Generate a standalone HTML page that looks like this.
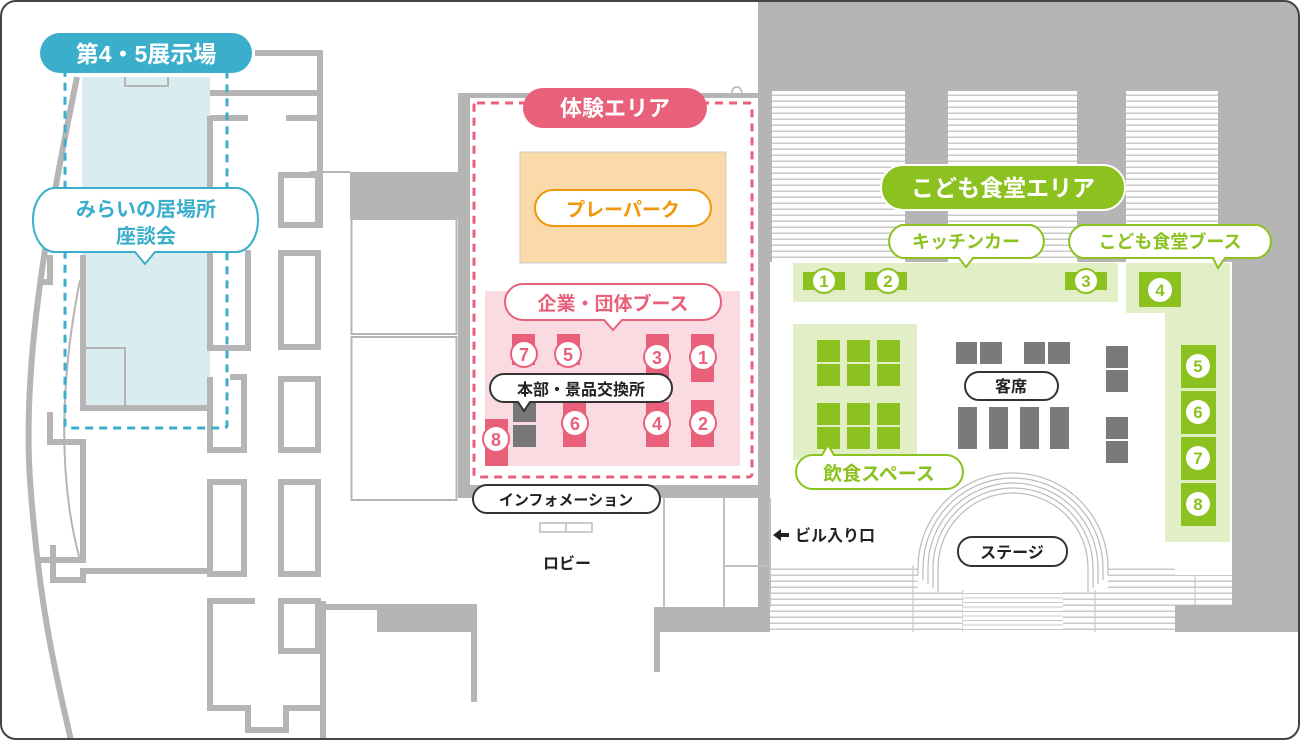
<!DOCTYPE html>
<html><head><meta charset="utf-8"><style>
html,body{margin:0;padding:0;background:#fff;}
svg{display:block;}
text{font-family:"Liberation Sans","Noto Sans CJK JP",sans-serif;font-weight:bold;}
</style></head><body>
<svg width="1300" height="740" viewBox="0 0 1300 740" xmlns="http://www.w3.org/2000/svg">
<defs>
<pattern id="st" width="10" height="6" patternUnits="userSpaceOnUse"><rect width="10" height="6" fill="#fff"/><rect y="4.5" width="10" height="1.5" fill="#c8c8c8"/></pattern>
<pattern id="st2" width="10" height="4.5" patternUnits="userSpaceOnUse"><rect width="10" height="4.5" fill="#fff"/><rect y="3.5" width="10" height="1" fill="#c8c8c8"/></pattern>
<clipPath id="fr"><rect x="1" y="1" width="1298" height="738" rx="15"/></clipPath>
</defs>
<g clip-path="url(#fr)">
<rect width="1300" height="740" fill="#fff"/>
<!-- right gray structure -->
<rect x="758" y="0" width="542" height="632" fill="#b5b5b5"/>
<rect x="770" y="262" width="462" height="345" fill="#fff"/>
<rect x="772" y="91" width="133" height="171" fill="url(#st)"/>
<rect x="948" y="91" width="129" height="171" fill="url(#st)"/>
<rect x="1126" y="91" width="92" height="171" fill="url(#st)"/>
<rect x="770" y="565" width="405" height="67" fill="url(#st)"/>
<rect x="1175" y="575" width="57" height="30" fill="url(#st)"/>
<rect x="1175" y="605" width="65" height="27" fill="#b5b5b5"/>
<g stroke="#c8c8c8" stroke-width="1.2" fill="none">
<line x1="913" y1="565" x2="913" y2="632"/><line x1="963" y1="590" x2="963" y2="632"/><line x1="1095" y1="590" x2="1095" y2="632"/>
<line x1="1195" y1="575" x2="1195" y2="605"/>
</g>
<!-- stage arch -->
<rect x="918" y="565" width="190" height="25" fill="#fff"/>
<g fill="none" stroke="#bbb" stroke-width="1.2">
<path d="M918 575 V568 A95 95 0 0 1 1108 568 V575"/>
<path d="M923 580 V568 A90 90 0 0 1 1103 568 V580"/>
<path d="M928 584 V568 A85 85 0 0 1 1098 568 V584"/>
<path d="M933 588 V568 A80 80 0 0 1 1093 568 V588"/>
<path d="M938 592 V568 A75 75 0 0 1 1088 568 V592"/>
</g>
<rect x="939" y="568" width="148" height="22" fill="#fff"/>
<rect x="963" y="592" width="100" height="40" fill="url(#st2)"/>

<!-- experience area walls -->
<rect x="458" y="93" width="300" height="405" fill="#b5b5b5"/>
<rect x="470" y="98" width="288" height="387" fill="#fff"/>
<rect x="350" y="172" width="108" height="47" fill="#b5b5b5"/>
<rect x="351.5" y="219" width="105" height="115" fill="none" stroke="#b5b5b5" stroke-width="2"/>
<rect x="351.5" y="337" width="105" height="163" fill="none" stroke="#b5b5b5" stroke-width="2"/>
<line x1="310" y1="172" x2="350" y2="172" stroke="#b5b5b5" stroke-width="2"/>
<path d="M732 93 q0-6 5-6 q4 0 5 6" fill="#fff" stroke="#b5b5b5" stroke-width="1.5"/>

<!-- lobby lines -->
<g stroke="#c0c0c0" stroke-width="2" fill="none">
<line x1="664" y1="498" x2="664" y2="607"/><line x1="724" y1="498" x2="724" y2="607"/>
<line x1="724" y1="566" x2="770" y2="566"/><line x1="770" y1="498" x2="770" y2="607"/>
</g>
<rect x="654" y="607" width="116" height="25" fill="#b5b5b5"/>
<rect x="654" y="632" width="6" height="40" fill="#b5b5b5"/>
<rect x="377" y="604" width="100" height="28" fill="#b5b5b5"/>
<rect x="471" y="632" width="6" height="70" fill="#b5b5b5"/>
<rect x="326" y="604" width="51" height="6" fill="#b5b5b5"/>
<rect x="540" y="523" width="52" height="9" fill="none" stroke="#bbb" stroke-width="1.5"/><line x1="566" y1="523" x2="566" y2="532" stroke="#bbb" stroke-width="1.5"/>

<!-- left area -->
<rect x="82" y="77" width="128" height="333" fill="#d9ecef"/>
<g fill="none" stroke="#b5b5b5" stroke-width="6">
<path d="M77 77 C48 220 22 360 30 480 C40 620 60 690 72 745"/>
<path d="M255 53 H320 V228"/>
<path d="M210 93 H320"/>
<path d="M210 118 H248 M286 118 H320"/>
<path d="M210 116 V228"/>
<path d="M210 250 V348 H248 V250"/>
<rect x="281" y="175" width="37" height="50"/>
<rect x="281" y="253" width="37" height="94"/>
<path d="M210 377 V450 H244 V377 H230"/>
<rect x="281" y="379" width="37" height="71"/>
<rect x="210" y="482" width="34" height="92"/>
<rect x="281" y="482" width="37" height="92"/>
<path d="M83 571 H210"/>
<path d="M255 601 H210 V708 H248 V730 H286 V708 H323"/>
<rect x="281" y="601" width="37" height="50"/>
<path d="M323 601 V745"/>
<path d="M50 412 V442 H83 V560 H38"/>
<path d="M53 545 V580 H83 V568"/>
<path d="M83 255 V410"/>
<path d="M50 255 V282 H38"/>
</g>
<path d="M80 280 C60 380 58 480 80 560" fill="none" stroke="#b5b5b5" stroke-width="2"/>
<path d="M125 77 V86 H168 V77" fill="none" stroke="#b5b5b5" stroke-width="2"/>
<path d="M85 348 H125 V410 M125 348 V410" fill="none" stroke="#b5b5b5" stroke-width="2"/>
<rect x="80" y="405" width="130" height="6" fill="#b5b5b5"/>
<rect x="65" y="60" width="162" height="368" fill="none" stroke="#3aaecb" stroke-width="3" stroke-dasharray="8 6" rx="3"/>
<rect x="40" y="33" width="212" height="40" rx="20" fill="#3aaecb"/>
<text x="146" y="62" font-size="23" fill="#fff" text-anchor="middle">第4・5展示場</text>
<path d="M55 188 H236 A22 32 0 0 1 236 252 H155 L145 264 L135 252 H55 A22 32 0 0 1 55 188 Z" fill="#fff" stroke="#3aaecb" stroke-width="2"/>
<text x="146" y="216" font-size="20" fill="#3aaecb" text-anchor="middle">みらいの居場所</text>
<text x="146" y="243" font-size="20" fill="#3aaecb" text-anchor="middle">座談会</text>

<!-- experience area contents -->
<rect x="520" y="152" width="206" height="111" fill="#fbdaa9" stroke="#ccc" stroke-width="1"/>
<rect x="535" y="190" width="176" height="36" rx="18" fill="#fff" stroke="#f0960a" stroke-width="2"/>
<text x="623" y="216" font-size="19" fill="#f0960a" text-anchor="middle">プレーパーク</text>
<rect x="485" y="291" width="255" height="175" fill="#fadbe1"/>
<g fill="#e8607a">
<rect x="512" y="334" width="23" height="31"/><rect x="557" y="334" width="23" height="31"/>
<rect x="646" y="334" width="23" height="47"/><rect x="691" y="334" width="23" height="48"/>
<rect x="563" y="402" width="23" height="45"/><rect x="646" y="402" width="23" height="45"/>
<rect x="691" y="400" width="23" height="47"/><rect x="485" y="419" width="23" height="47"/>
</g>
<rect x="513" y="400" width="23" height="22" fill="#777"/><rect x="513" y="425" width="23" height="22" fill="#777"/>
<g fill="#fff" stroke="#e8607a" stroke-width="2">
<circle cx="524" cy="354" r="13"/><circle cx="568" cy="354" r="13"/><circle cx="657" cy="357" r="13"/><circle cx="703" cy="357" r="13"/>
<circle cx="575" cy="423" r="13"/><circle cx="657" cy="423" r="13"/><circle cx="703" cy="423" r="13"/><circle cx="496" cy="439" r="13"/>
</g>
<g font-size="18" fill="#e8607a" text-anchor="middle">
<text x="524" y="361">7</text><text x="568" y="361">5</text><text x="657" y="364">3</text><text x="703" y="364">1</text>
<text x="575" y="430">6</text><text x="657" y="430">4</text><text x="703" y="430">2</text><text x="496" y="446">8</text>
</g>
<path d="M523 284 H703 A18 18 0 0 1 703 320 H622 L613 330 L604 320 H523 A18 18 0 0 1 523 284 Z" fill="#fff" stroke="#e8607a" stroke-width="2"/>
<text x="613" y="310" font-size="19" fill="#e8607a" text-anchor="middle">企業・団体ブース</text>
<path d="M504 374 H658 A14 14 0 0 1 658 402 H530 L524 411 L518 402 H504 A14 14 0 0 1 504 374 Z" fill="#fff" stroke="#333" stroke-width="2"/>
<text x="581" y="395" font-size="16" fill="#222" text-anchor="middle" font-weight="normal">本部・景品交換所</text>
<rect x="474" y="103" width="278" height="374" rx="3" fill="none" stroke="#e8607a" stroke-width="3" stroke-dasharray="8 6"/>
<rect x="523" y="88" width="184" height="40" rx="20" fill="#e8607a"/>
<text x="615" y="116" font-size="22" fill="#fff" text-anchor="middle">体験エリア</text>
<rect x="473" y="485" width="187" height="28" rx="14" fill="#fff" stroke="#333" stroke-width="2"/>
<text x="566" y="505" font-size="15" fill="#222" text-anchor="middle" font-weight="normal">インフォメーション</text>
<text x="567" y="569" font-size="16" fill="#222" text-anchor="middle" font-weight="normal">ロビー</text>

<!-- kodomo area -->
<rect x="793" y="263" width="325" height="39" fill="#e1eec6"/>
<path d="M1126 263 H1230 V542 H1165 V313 H1126 Z" fill="#e1eec6"/>
<rect x="793" y="324" width="124" height="136" fill="#e1eec6"/>
<g fill="#8cc220">
<rect x="803" y="272" width="42" height="18"/><rect x="865" y="272" width="42" height="18"/><rect x="1065" y="272" width="42" height="18"/>
<rect x="1139" y="272" width="42" height="35"/>
<rect x="1181" y="345" width="35" height="43"/><rect x="1181" y="391" width="35" height="43"/><rect x="1181" y="437" width="35" height="43"/><rect x="1181" y="483" width="35" height="43"/>
<rect x="817" y="340" width="23" height="22"/><rect x="847" y="340" width="23" height="22"/><rect x="877" y="340" width="23" height="22"/>
<rect x="817" y="364" width="23" height="22"/><rect x="847" y="364" width="23" height="22"/><rect x="877" y="364" width="23" height="22"/>
<rect x="817" y="403" width="23" height="22"/><rect x="847" y="403" width="23" height="22"/><rect x="877" y="403" width="23" height="22"/>
<rect x="817" y="427" width="23" height="22"/><rect x="847" y="427" width="23" height="22"/><rect x="877" y="427" width="23" height="22"/>
</g>
<g fill="#fff" stroke="#8cc220" stroke-width="2"><circle cx="824" cy="281" r="12"/><circle cx="888" cy="281" r="12"/><circle cx="1086" cy="281" r="12"/></g>
<g fill="#fff"><circle cx="1160" cy="290" r="12"/><circle cx="1198" cy="366" r="12"/><circle cx="1198" cy="412" r="12"/><circle cx="1198" cy="458" r="12"/><circle cx="1198" cy="504" r="12"/></g>
<g font-size="17" fill="#8cc220" text-anchor="middle">
<text x="824" y="287">1</text><text x="888" y="287">2</text><text x="1086" y="287">3</text><text x="1160" y="296">4</text>
<text x="1198" y="372">5</text><text x="1198" y="418">6</text><text x="1198" y="464">7</text><text x="1198" y="510">8</text>
</g>
<g fill="#7a7a7a">
<rect x="956" y="342" width="21" height="22"/><rect x="980" y="342" width="22" height="22"/>
<rect x="1024" y="342" width="21" height="22"/><rect x="1048" y="342" width="22" height="22"/>
<rect x="958" y="407" width="19" height="42"/><rect x="989" y="407" width="19" height="42"/><rect x="1020" y="407" width="19" height="42"/><rect x="1050" y="407" width="19" height="42"/>
<rect x="1106" y="346" width="22" height="22"/><rect x="1106" y="370" width="22" height="22"/>
<rect x="1106" y="417" width="22" height="22"/><rect x="1106" y="441" width="22" height="22"/>
</g>
<rect x="965" y="372" width="93" height="28" rx="14" fill="#fff" stroke="#333" stroke-width="2"/>
<text x="1011" y="392" font-size="16" fill="#222" text-anchor="middle" font-weight="normal">客席</text>
<path d="M813 455 H822 L828 445 L834 455 H946 A17 17 0 0 1 946 489 H813 A17 17 0 0 1 813 455 Z" fill="#fff" stroke="#8cc220" stroke-width="2"/>
<text x="879" y="480" font-size="19" fill="#8cc220" text-anchor="middle">飲食スペース</text>
<rect x="881" y="165" width="244" height="45" rx="22" fill="#8cc220" stroke="#fff" stroke-width="2"/>
<text x="1003" y="196" font-size="23" fill="#fff" text-anchor="middle">こども食堂エリア</text>
<path d="M902 225 H1031 A17 17 0 0 1 1031 258 H973 L966 267 L959 258 H902 A17 17 0 0 1 902 225 Z" fill="#fff" stroke="#8cc220" stroke-width="2"/>
<text x="966" y="248" font-size="18" fill="#8cc220" text-anchor="middle">キッチンカー</text>
<path d="M1082 225 H1258 A17 17 0 0 1 1258 258 H1225 L1218 268 L1213 258 H1082 A17 17 0 0 1 1082 225 Z" fill="#fff" stroke="#8cc220" stroke-width="2"/>
<text x="1170" y="248" font-size="18" fill="#8cc220" text-anchor="middle">こども食堂ブース</text>
<rect x="958" y="537" width="109" height="29" rx="14" fill="#fff" stroke="#333" stroke-width="2"/>
<text x="1012" y="558" font-size="16" fill="#222" text-anchor="middle" font-weight="normal">ステージ</text>
<path d="M773 535 L781 529 V533 H789 V537 H781 V541 Z" fill="#222"/>
<text x="795" y="541" font-size="16" fill="#222" font-weight="normal">ビル入り口</text>
</g>
<rect x="1" y="1" width="1298" height="738" rx="15" fill="none" stroke="#444" stroke-width="2"/>
</svg>
</body></html>
